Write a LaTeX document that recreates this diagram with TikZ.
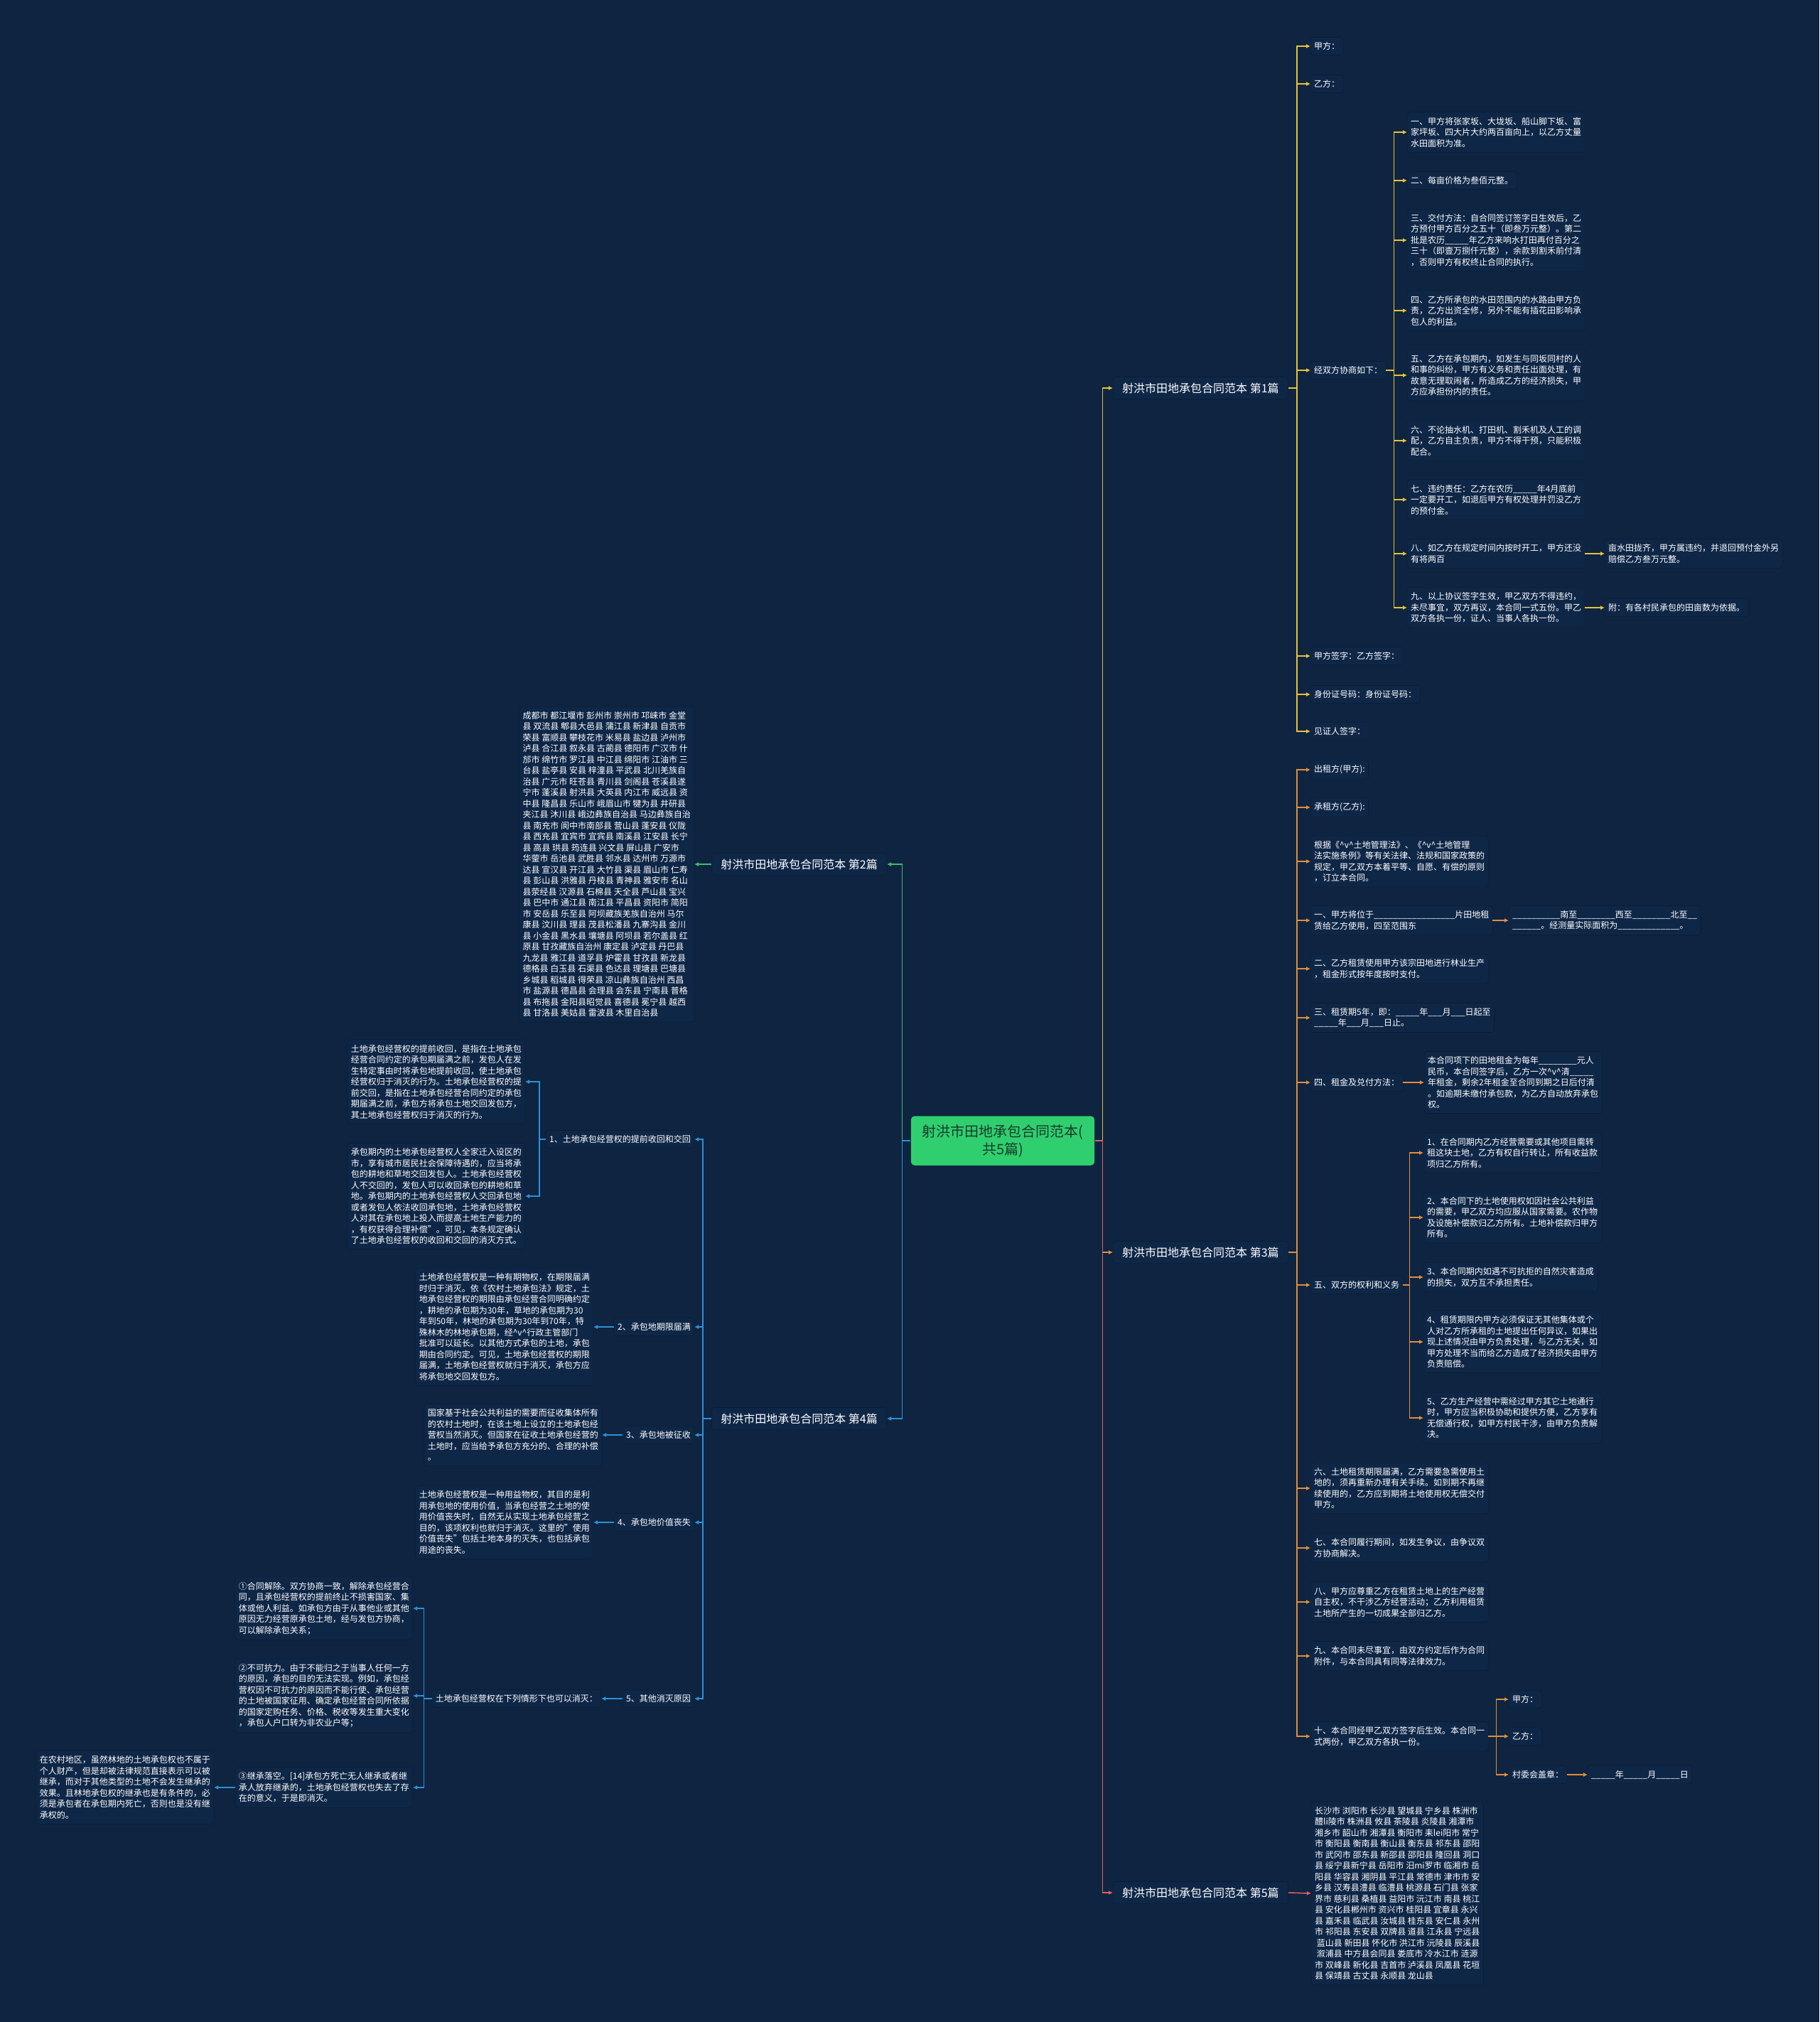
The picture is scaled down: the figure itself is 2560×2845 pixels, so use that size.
\documentclass[tikz,border=0pt]{standalone}
\usepackage{fontspec}
\setmainfont{Noto Sans CJK SC}
\usetikzlibrary{arrows.meta}
\definecolor{bgnavy}{HTML}{0E2440}
\definecolor{boxfill}{HTML}{0F2747}
\definecolor{boxline}{HTML}{081A31}
\definecolor{rootgreen}{HTML}{2FCF6F}
\definecolor{roottext}{HTML}{1B3A2A}
\definecolor{lineyellow}{HTML}{E6C23A}
\definecolor{linegreen}{HTML}{3DBE6A}
\definecolor{lineorange}{HTML}{E08E3E}
\definecolor{lineblue}{HTML}{2E90D8}
\definecolor{linered}{HTML}{E0605F}
\newcommand\hatv{\textasciicircum v\textasciicircum}

\begin{document}
\begin{tikzpicture}[x=1pt,y=-1pt,>={Latex[length=6pt,width=6pt]}]
\tikzset{leaf/.style={draw=boxline,fill=boxfill,rounded corners=4pt,align=left,inner xsep=5pt,inner ysep=7pt,text=white,font=\fontsize{12}{15.5}\selectfont},
  branch/.style={leaf,font=\fontsize{16}{19}\selectfont,inner xsep=13pt,inner ysep=8pt},
  root/.style={draw=boxline,fill=rootgreen,text=roottext,rounded corners=5pt,align=center,inner xsep=16pt,inner ysep=12pt,font=\fontsize{20}{25}\selectfont},
  link/.style={->,line width=1.6pt},
  ly/.style={link,draw=lineyellow},lg/.style={link,draw=linegreen},lo/.style={link,draw=lineorange},
  lb/.style={link,draw=lineblue},lr/.style={link,draw=linered}}
\path[use as bounding box,fill=bgnavy] (0,0) rectangle (2560,2845);

\node[root] (root) at (1411,1605) {射洪市田地承包合同范本(\\共5篇)};

\node[branch,anchor=west] (b1) at (1566,546) {射洪市田地承包合同范本 第1篇};
\node[branch,anchor=east] (b2) at (1248,1216) {射洪市田地承包合同范本 第2篇};
\node[branch,anchor=west] (b3) at (1566,1762) {射洪市田地承包合同范本 第3篇};
\node[branch,anchor=east] (b4) at (1248,1996) {射洪市田地承包合同范本 第4篇};
\node[branch,anchor=west] (b5) at (1566,2663) {射洪市田地承包合同范本 第5篇};

\draw[ly] (root.east) -- ++(11,0) |- (b1.west);
\draw[lo] (root.east) -- ++(11,0) |- (b3.west);
\draw[lr] (root.east) -- ++(11,0) |- (b5.west);
\draw[lg] (root.west) -- ++(-12,0) |- (b2.east);
\draw[lb] (root.west) -- ++(-12,0) |- (b4.east);

\node[leaf,anchor=west] (p1jia) at (1844,65) {甲方：};
\node[leaf,anchor=west] (p1yi) at (1844,118) {乙方：};
\node[leaf,anchor=west] (p1xie) at (1844,521) {经双方协商如下：};
\node[leaf,anchor=west] (p1qian) at (1844,923) {甲方签字：乙方签字：};
\node[leaf,anchor=west] (p1id) at (1844,977) {身份证号码：身份证号码：};
\node[leaf,anchor=west] (p1wit) at (1844,1029) {见证人签字：};
\foreach \n in {p1jia,p1yi,p1xie,p1qian,p1id,p1wit}
  \draw[ly] (b1.east) -- ++(12,0) |- (\n.west);

\node[leaf,anchor=west] (s1) at (1980,186) {一、甲方将张家坂、大垅坂、船山脚下坂、富\\家坪坂、四大片大约两百亩向上，以乙方丈量\\水田面积为准。};
\node[leaf,anchor=west] (s2) at (1980,254) {二、每亩价格为叁佰元整。};
\node[leaf,anchor=west] (s3) at (1980,338) {三、交付方法：自合同签订签字日生效后，乙\\方预付甲方百分之五十（即叁万元整）。第二\\批是农历\_\_\_\_\_年乙方来响水打田再付百分之\\三十（即壹万捌仟元整），余款到割禾前付清\\，否则甲方有权终止合同的执行。};
\node[leaf,anchor=west] (s4) at (1980,437) {四、乙方所承包的水田范围内的水路由甲方负\\责，乙方出资全修，另外不能有插花田影响承\\包人的利益。};
\node[leaf,anchor=west] (s5) at (1980,528) {五、乙方在承包期内，如发生与同坂同村的人\\和事的纠纷，甲方有义务和责任出面处理，有\\故意无理取闹者，所造成乙方的经济损失，甲\\方应承担份内的责任。};
\node[leaf,anchor=west] (s6) at (1980,620) {六、不论抽水机、打田机、割禾机及人工的调\\配，乙方自主负责，甲方不得干预，只能积极\\配合。};
\node[leaf,anchor=west] (s7) at (1980,703) {七、违约责任：乙方在农历\_\_\_\_\_年4月底前\\一定要开工，如退后甲方有权处理并罚没乙方\\的预付金。};
\node[leaf,anchor=west] (s8) at (1980,779) {八、如乙方在规定时间内按时开工，甲方还没\\有将两百};
\node[leaf,anchor=west] (s9) at (1980,855) {九、以上协议签字生效，甲乙双方不得违约，\\未尽事宜，双方再议，本合同一式五份。甲乙\\双方各执一份，证人、当事人各执一份。};
\foreach \n in {s1,s2,s3,s4,s5,s6,s7,s8,s9}
  \draw[ly] (p1xie.east) -- ++(11,0) |- (\n.west);
\node[leaf,anchor=west] (s8x) at (2258,779) {亩水田拢齐，甲方属违约，并退回预付金外另\\赔偿乙方叁万元整。};
\node[leaf,anchor=west] (s9x) at (2258,855) {附：有各村民承包的田亩数为依据。};
\draw[ly] (s8.east) -- (s8x.west);
\draw[ly] (s9.east) -- (s9x.west);

\node[leaf,anchor=east] (c2) at (977,1216) {成都市 都江堰市 彭州市 崇州市 邛崃市 金堂\\县 双流县 郫县大邑县 蒲江县 新津县 自贡市\\荣县 富顺县 攀枝花市 米易县 盐边县 泸州市\\泸县 合江县 叙永县 古蔺县 德阳市 广汉市 什\\邡市 绵竹市 罗江县 中江县 绵阳市 江油市 三\\台县 盐亭县 安县 梓潼县 平武县 北川羌族自\\治县 广元市 旺苍县 青川县 剑阁县 苍溪县遂\\宁市 蓬溪县 射洪县 大英县 内江市 威远县 资\\中县 隆昌县 乐山市 峨眉山市 犍为县 井研县\\夹江县 沐川县 峨边彝族自治县 马边彝族自治\\县 南充市 阆中市南部县 营山县 蓬安县 仪陇\\县 西充县 宜宾市 宜宾县 南溪县 江安县 长宁\\县 高县 珙县 筠连县 兴文县 屏山县 广安市\\华蓥市 岳池县 武胜县 邻水县 达州市 万源市\\达县 宣汉县 开江县 大竹县 渠县 眉山市 仁寿\\县 彭山县 洪雅县 丹棱县 青神县 雅安市 名山\\县荥经县 汉源县 石棉县 天全县 芦山县 宝兴\\县 巴中市 通江县 南江县 平昌县 资阳市 简阳\\市 安岳县 乐至县 阿坝藏族羌族自治州 马尔\\康县 汶川县 理县 茂县松潘县 九寨沟县 金川\\县 小金县 黑水县 壤塘县 阿坝县 若尔盖县 红\\原县 甘孜藏族自治州 康定县 泸定县 丹巴县\\九龙县 雅江县 道孚县 炉霍县 甘孜县 新龙县\\德格县 白玉县 石渠县 色达县 理塘县 巴塘县\\乡城县 稻城县 得荣县 凉山彝族自治州 西昌\\市 盐源县 德昌县 会理县 会东县 宁南县 普格\\县 布拖县 金阳县昭觉县 喜德县 冕宁县 越西\\县 甘洛县 美姑县 雷波县 木里自治县};
\draw[lg] (b2.west) -- (c2.east);

\node[leaf,anchor=west] (q1) at (1844,1083) {出租方(甲方):};
\node[leaf,anchor=west] (q2) at (1844,1136) {承租方(乙方):};
\node[leaf,anchor=west] (q3) at (1844,1212) {根据《\hatv 土地管理法》、《\hatv 土地管理\\法实施条例》等有关法律、法规和国家政策的\\规定，甲乙双方本着平等、自愿、有偿的原则\\，订立本合同。};
\node[leaf,anchor=west] (q4) at (1844,1295) {一、甲方将位于\_\_\_\_\_\_\_\_\_\_\_\_\_\_\_\_\_片田地租\\赁给乙方使用，四至范围东};
\node[leaf,anchor=west] (q5) at (1844,1363) {二、乙方租赁使用甲方该宗田地进行林业生产\\，租金形式按年度按时支付。};
\node[leaf,anchor=west] (q6) at (1844,1432) {三、租赁期5年，即：\_\_\_\_\_年\_\_\_月\_\_\_日起至\\\_\_\_\_\_年\_\_\_月\_\_\_日止。};
\node[leaf,anchor=west] (q7) at (1844,1523) {四、租金及兑付方法：};
\node[leaf,anchor=west] (q8) at (1844,1808) {五、双方的权利和义务};
\node[leaf,anchor=west] (q9) at (1844,2094) {六、土地租赁期限届满，乙方需要急需使用土\\地的，须再重新办理有关手续。如到期不再继\\续使用的，乙方应到期将土地使用权无偿交付\\甲方。};
\node[leaf,anchor=west] (q10) at (1844,2178) {七、本合同履行期间，如发生争议，由争议双\\方协商解决。};
\node[leaf,anchor=west] (q11) at (1844,2254) {八、甲方应尊重乙方在租赁土地上的生产经营\\自主权，不干涉乙方经营活动；乙方利用租赁\\土地所产生的一切成果全部归乙方。};
\node[leaf,anchor=west] (q12) at (1844,2330) {九、本合同未尽事宜，由双方约定后作为合同\\附件，与本合同具有同等法律效力。};
\node[leaf,anchor=west] (q13) at (1844,2443) {十、本合同经甲乙双方签字后生效。本合同一\\式两份，甲乙双方各执一份。};
\foreach \n in {q1,q2,q3,q4,q5,q6,q7,q8,q9,q10,q11,q12,q13}
  \draw[lo] (b3.east) -- ++(12,0) |- (\n.west);

\node[leaf,anchor=west] (q4x) at (2123,1295) {\_\_\_\_\_\_\_\_\_\_南至\_\_\_\_\_\_\_\_西至\_\_\_\_\_\_\_\_北至\_\_\\\_\_\_\_\_\_。经测量实际面积为\_\_\_\_\_\_\_\_\_\_\_\_\_。};
\draw[lo] (q4.east) -- (q4x.west);
\node[leaf,anchor=west] (q7x) at (2004,1523) {本合同项下的田地租金为每年\_\_\_\_\_\_\_\_元人\\民币，本合同签字后，乙方一次\hatv 清\_\_\_\_\_\\年租金，剩余2年租金至合同到期之日后付清\\。如逾期未缴付承包款，为乙方自动放弃承包\\权。};
\draw[lo] (q7.east) -- (q7x.west);

\node[leaf,anchor=west] (r1) at (2003,1622) {1、在合同期内乙方经营需要或其他项目需转\\租这块土地，乙方有权自行转让，所有收益款\\项归乙方所有。};
\node[leaf,anchor=west] (r2) at (2003,1713) {2、本合同下的土地使用权如因社会公共利益\\的需要，甲乙双方均应服从国家需要。农作物\\及设施补偿款归乙方所有。土地补偿款归甲方\\所有。};
\node[leaf,anchor=west] (r3) at (2003,1797) {3、本合同期内如遇不可抗拒的自然灾害造成\\的损失，双方互不承担责任。};
\node[leaf,anchor=west] (r4) at (2003,1888) {4、租赁期限内甲方必须保证无其他集体或个\\人对乙方所承租的土地提出任何异议，如果出\\现上述情况由甲方负责处理，与乙方无关，如\\甲方处理不当而给乙方造成了经济损失由甲方\\负责赔偿。};
\node[leaf,anchor=west] (r5) at (2003,1995) {5、乙方生产经营中需经过甲方其它土地通行\\时，甲方应当积极协助和提供方便，乙方享有\\无偿通行权，如甲方村民干涉，由甲方负责解\\决。};
\foreach \n in {r1,r2,r3,r4,r5}
  \draw[lo] (q8.east) -- ++(9,0) |- (\n.west);

\node[leaf,anchor=west] (u1) at (2123,2391) {甲方：};
\node[leaf,anchor=west] (u2) at (2123,2443) {乙方：};
\node[leaf,anchor=west] (u3) at (2123,2497) {村委会盖章：};
\foreach \n in {u1,u2,u3}
  \draw[lo] (q13.east) -- ++(11,0) |- (\n.west);
\node[leaf,anchor=west] (u3x) at (2234,2497) {\_\_\_\_\_年\_\_\_\_\_月\_\_\_\_\_日};
\draw[lo] (u3.east) -- (u3x.west);

\node[leaf,anchor=east] (t1) at (977,1603) {1、土地承包经营权的提前收回和交回};
\node[leaf,anchor=east] (t2) at (977,1867) {2、承包地期限届满};
\node[leaf,anchor=east] (t3) at (977,2019) {3、承包地被征收};
\node[leaf,anchor=east] (t4) at (977,2142) {4、承包地价值丧失};
\node[leaf,anchor=east] (t5) at (977,2390) {5、其他消灭原因};
\foreach \n in {t1,t2,t3,t4,t5}
  \draw[lb] (b4.west) -- ++(-12,0) |- (\n.east);

\node[leaf,anchor=east] (t1a) at (739,1522) {土地承包经营权的提前收回，是指在土地承包\\经营合同约定的承包期届满之前，发包人在发\\生特定事由时将承包地提前收回，使土地承包\\经营权归于消灭的行为。土地承包经营权的提\\前交回，是指在土地承包经营合同约定的承包\\期届满之前，承包方将承包土地交回发包方，\\其土地承包经营权归于消灭的行为。};
\node[leaf,anchor=east] (t1b) at (739,1683) {承包期内的土地承包经营权人全家迁入设区的\\市，享有城市居民社会保障待遇的，应当将承\\包的耕地和草地交回发包人。土地承包经营权\\人不交回的，发包人可以收回承包的耕地和草\\地。承包期内的土地承包经营权人交回承包地\\或者发包人依法收回承包地，土地承包经营权\\人对其在承包地上投入而提高土地生产能力的\\，有权获得合理补偿"。可见，本条规定确认\\了土地承包经营权的收回和交回的消灭方式。};
\foreach \n in {t1a,t1b}
  \draw[lb] (t1.west) -- ++(-9,0) |- (\n.east);

\node[leaf,anchor=east] (t2x) at (835,1867) {土地承包经营权是一种有期物权，在期限届满\\时归于消灭。依《农村土地承包法》规定，土\\地承包经营权的期限由承包经营合同明确约定\\，耕地的承包期为30年，草地的承包期为30\\年到50年，林地的承包期为30年到70年，特\\殊林木的林地承包期，经\hatv 行政主管部门\\批准可以延长。以其他方式承包的土地，承包\\期由合同约定。可见，土地承包经营权的期限\\届满，土地承包经营权就归于消灭，承包方应\\将承包地交回发包方。};
\draw[lb] (t2.west) -- (t2x.east);
\node[leaf,anchor=east] (t3x) at (847,2019) {国家基于社会公共利益的需要而征收集体所有\\的农村土地时，在该土地上设立的土地承包经\\营权当然消灭。但国家在征收土地承包经营的\\土地时，应当给予承包方充分的、合理的补偿\\。};
\draw[lb] (t3.west) -- (t3x.east);
\node[leaf,anchor=east] (t4x) at (835,2142) {土地承包经营权是一种用益物权，其目的是利\\用承包地的使用价值，当承包经营之土地的使\\用价值丧失时，自然无从实现土地承包经营之\\目的，该项权利也就归于消灭。这里的"使用\\价值丧失"包括土地本身的灭失，也包括承包\\用途的丧失。};
\draw[lb] (t4.west) -- (t4x.east);

\node[leaf,anchor=east] (t5m) at (846,2390) {土地承包经营权在下列情形下也可以消灭：};
\draw[lb] (t5.west) -- (t5m.east);
\node[leaf,anchor=east] (v1) at (581,2263) {①合同解除。双方协商一致，解除承包经营合\\同，且承包经营权的提前终止不损害国家、集\\体或他人利益。如承包方由于从事他业或其他\\原因无力经营原承包土地，经与发包方协商，\\可以解除承包关系；};
\node[leaf,anchor=east] (v2) at (581,2386) {②不可抗力。由于不能归之于当事人任何一方\\的原因，承包的目的无法实现。例如，承包经\\营权因不可抗力的原因而不能行使、承包经营\\的土地被国家征用、确定承包经营合同所依据\\的国家定购任务、价格、税收等发生重大变化\\，承包人户口转为非农业户等；};
\node[leaf,anchor=east] (v3) at (581,2515) {③继承落空。[14]承包方死亡无人继承或者继\\承人放弃继承的，土地承包经营权也失去了存\\在的意义，于是即消灭。};
\foreach \n in {v1,v2,v3}
  \draw[lb] (t5m.west) -- ++(-11,0) |- (\n.east);
\node[leaf,anchor=east] (v3x) at (301,2515) {在农村地区，虽然林地的土地承包权也不属于\\个人财产，但是却被法律规范直接表示可以被\\继承，而对于其他类型的土地不会发生继承的\\效果。且林地承包权的继承也是有条件的，必\\须是承包者在承包期内死亡，否则也是没有继\\承权的。};
\draw[lb] (v3.west) -- (v3x.east);

\node[leaf,anchor=west] (c5) at (1845,2664) {长沙市 浏阳市 长沙县 望城县 宁乡县 株洲市\\醴li陵市 株洲县 攸县 茶陵县 炎陵县 湘潭市\\湘乡市 韶山市 湘潭县 衡阳市 耒lei阳市 常宁\\市 衡阳县 衡南县 衡山县 衡东县 祁东县 邵阳\\市 武冈市 邵东县 新邵县 邵阳县 隆回县 洞口\\县 绥宁县新宁县 岳阳市 汨mi罗市 临湘市 岳\\阳县 华容县 湘阴县 平江县 常德市 津市市 安\\乡县 汉寿县澧县 临澧县 桃源县 石门县 张家\\界市 慈利县 桑植县 益阳市 沅江市 南县 桃江\\县 安化县郴州市 资兴市 桂阳县 宜章县 永兴\\县 嘉禾县 临武县 汝城县 桂东县 安仁县 永州\\市 祁阳县 东安县 双牌县 道县 江永县 宁远县\\\ 蓝山县 新田县 怀化市 洪江市 沅陵县 辰溪县\\\ 溆浦县 中方县会同县 娄底市 冷水江市 涟源\\市 双峰县 新化县 吉首市 泸溪县 凤凰县 花垣\\县 保靖县 古丈县 永顺县 龙山县};
\draw[lr] (b5.east) -- (c5.west);
\end{tikzpicture}
\end{document}
